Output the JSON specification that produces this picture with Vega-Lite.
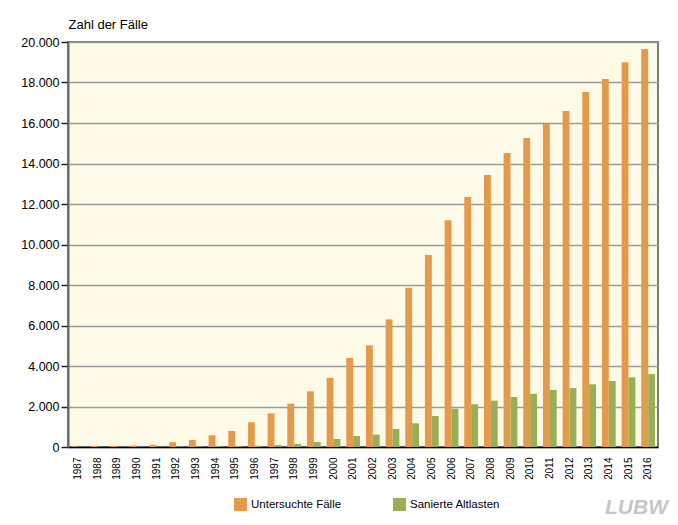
{
  "$schema": "https://vega.github.io/schema/vega-lite/v6.json",
  "width": 590,
  "height": 405,
  "autosize": "none",
  "padding": {"left": 68, "top": 42, "right": 20, "bottom": 78},
  "background": "#ffffff",
  "config": {
    "font": "Liberation Sans",
    "view": {"fill": "#fdfbe7", "stroke": "#7a7a7a", "strokeWidth": 2}
  },
  "title": {
    "text": "LUBW",
    "orient": "bottom",
    "anchor": "end",
    "font": "Liberation Sans",
    "fontStyle": "italic",
    "fontWeight": "bold",
    "fontSize": 21,
    "color": "#c6c6c6",
    "offset": -14,
    "dx": 10
  },
  "data": {
    "values": [
      {"year": "1987", "series": "Untersuchte Fälle", "value": 30},
      {"year": "1988", "series": "Untersuchte Fälle", "value": 50},
      {"year": "1989", "series": "Untersuchte Fälle", "value": 60},
      {"year": "1990", "series": "Untersuchte Fälle", "value": 80},
      {"year": "1991", "series": "Untersuchte Fälle", "value": 110},
      {"year": "1992", "series": "Untersuchte Fälle", "value": 240},
      {"year": "1993", "series": "Untersuchte Fälle", "value": 345},
      {"year": "1994", "series": "Untersuchte Fälle", "value": 580},
      {"year": "1995", "series": "Untersuchte Fälle", "value": 790},
      {"year": "1996", "series": "Untersuchte Fälle", "value": 1220},
      {"year": "1997", "series": "Untersuchte Fälle", "value": 1660},
      {"year": "1998", "series": "Untersuchte Fälle", "value": 2140},
      {"year": "1999", "series": "Untersuchte Fälle", "value": 2750},
      {"year": "2000", "series": "Untersuchte Fälle", "value": 3420},
      {"year": "2001", "series": "Untersuchte Fälle", "value": 4400},
      {"year": "2002", "series": "Untersuchte Fälle", "value": 5020},
      {"year": "2003", "series": "Untersuchte Fälle", "value": 6300},
      {"year": "2004", "series": "Untersuchte Fälle", "value": 7870},
      {"year": "2005", "series": "Untersuchte Fälle", "value": 9480},
      {"year": "2006", "series": "Untersuchte Fälle", "value": 11200},
      {"year": "2007", "series": "Untersuchte Fälle", "value": 12340},
      {"year": "2008", "series": "Untersuchte Fälle", "value": 13430},
      {"year": "2009", "series": "Untersuchte Fälle", "value": 14520},
      {"year": "2010", "series": "Untersuchte Fälle", "value": 15260},
      {"year": "2011", "series": "Untersuchte Fälle", "value": 15950},
      {"year": "2012", "series": "Untersuchte Fälle", "value": 16590},
      {"year": "2013", "series": "Untersuchte Fälle", "value": 17530},
      {"year": "2014", "series": "Untersuchte Fälle", "value": 18170},
      {"year": "2015", "series": "Untersuchte Fälle", "value": 19000},
      {"year": "2016", "series": "Untersuchte Fälle", "value": 19650},
      {"year": "1987", "series": "Sanierte Altlasten", "value": 5},
      {"year": "1988", "series": "Sanierte Altlasten", "value": 5},
      {"year": "1989", "series": "Sanierte Altlasten", "value": 8},
      {"year": "1990", "series": "Sanierte Altlasten", "value": 10},
      {"year": "1991", "series": "Sanierte Altlasten", "value": 15},
      {"year": "1992", "series": "Sanierte Altlasten", "value": 20},
      {"year": "1993", "series": "Sanierte Altlasten", "value": 25},
      {"year": "1994", "series": "Sanierte Altlasten", "value": 40},
      {"year": "1995", "series": "Sanierte Altlasten", "value": 55},
      {"year": "1996", "series": "Sanierte Altlasten", "value": 65},
      {"year": "1997", "series": "Sanierte Altlasten", "value": 100},
      {"year": "1998", "series": "Sanierte Altlasten", "value": 150},
      {"year": "1999", "series": "Sanierte Altlasten", "value": 250},
      {"year": "2000", "series": "Sanierte Altlasten", "value": 395},
      {"year": "2001", "series": "Sanierte Altlasten", "value": 545},
      {"year": "2002", "series": "Sanierte Altlasten", "value": 610},
      {"year": "2003", "series": "Sanierte Altlasten", "value": 890},
      {"year": "2004", "series": "Sanierte Altlasten", "value": 1170},
      {"year": "2005", "series": "Sanierte Altlasten", "value": 1530},
      {"year": "2006", "series": "Sanierte Altlasten", "value": 1890},
      {"year": "2007", "series": "Sanierte Altlasten", "value": 2110},
      {"year": "2008", "series": "Sanierte Altlasten", "value": 2290},
      {"year": "2009", "series": "Sanierte Altlasten", "value": 2470},
      {"year": "2010", "series": "Sanierte Altlasten", "value": 2630},
      {"year": "2011", "series": "Sanierte Altlasten", "value": 2815},
      {"year": "2012", "series": "Sanierte Altlasten", "value": 2910},
      {"year": "2013", "series": "Sanierte Altlasten", "value": 3095},
      {"year": "2014", "series": "Sanierte Altlasten", "value": 3260},
      {"year": "2015", "series": "Sanierte Altlasten", "value": 3440},
      {"year": "2016", "series": "Sanierte Altlasten", "value": 3600}
    ]
  },
  "mark": {"type": "bar"},
  "encoding": {
    "x": {
      "field": "year",
      "type": "nominal",
      "scale": {"paddingInner": 0.3, "paddingOuter": 0.15},
      "axis": {
        "title": null,
        "labelAngle": -90,
        "labelFontSize": 10,
        "labelColor": "#000000",
        "labelPadding": 10,
        "ticks": false,
        "domainColor": "#000000",
        "domainWidth": 1.5
      }
    },
    "xOffset": {
      "field": "series",
      "type": "nominal",
      "sort": ["Untersuchte Fälle", "Sanierte Altlasten"]
    },
    "y": {
      "field": "value",
      "type": "quantitative",
      "scale": {"domain": [0, 20000]},
      "axis": {
        "values": [0, 2000, 4000, 6000, 8000, 10000, 12000, 14000, 16000, 18000, 20000],
        "labelExpr": "replace(datum.label, ',', '.')",
        "labelFontSize": 12.5,
        "labelColor": "#000000",
        "labelPadding": 2,
        "tickSize": 7,
        "tickColor": "#222222",
        "tickWidth": 1.5,
        "domainColor": "#6a6a6a",
        "domainWidth": 2,
        "gridColor": "#9a9a9a",
        "gridWidth": 1.5,
        "title": "Zahl der Fälle",
        "titleAngle": 0,
        "titleAlign": "left",
        "titleBaseline": "alphabetic",
        "titleX": 0,
        "titleY": -14,
        "titleFontSize": 13,
        "titleFontWeight": "normal",
        "titleColor": "#000000"
      }
    },
    "color": {
      "field": "series",
      "type": "nominal",
      "sort": ["Untersuchte Fälle", "Sanierte Altlasten"],
      "scale": {"domain": ["Untersuchte Fälle", "Sanierte Altlasten"], "range": ["#e39a4b", "#9aae55"]},
      "legend": {
        "title": null,
        "orient": "none",
        "direction": "horizontal",
        "legendX": 166,
        "legendY": 456,
        "symbolType": "square",
        "symbolSize": 169,
        "symbolStrokeWidth": 0,
        "symbolOpacity": 1,
        "labelFontSize": 11.5,
        "labelColor": "#000000",
        "columnPadding": 51,
        "labelOffset": 4
      }
    }
  }
}
